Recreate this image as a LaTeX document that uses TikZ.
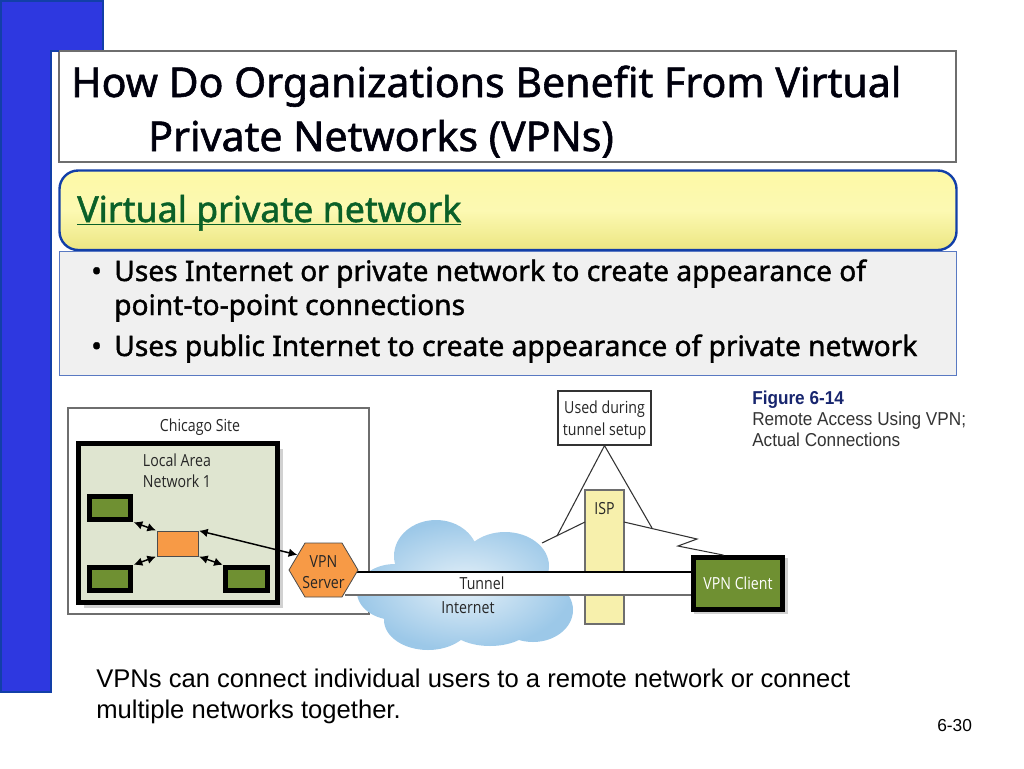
\documentclass[tikz,border=0pt]{standalone}
\usepackage{fontspec}
\setmainfont{Liberation Sans}
\newfontfamily\headfont[FakeBold=1.4]{Noto Sans}
\newfontfamily\figfont[FakeStretch=0.85]{Open Sans}
\newfontfamily\capfont[FakeStretch=0.92]{Liberation Sans}
\usetikzlibrary{arrows.meta}
\definecolor{barblue}{HTML}{2E38E0}
\definecolor{barline}{HTML}{123FA8}
\definecolor{boxgray}{HTML}{6E6E6E}
\definecolor{lanfill}{HTML}{DFE5D0}
\definecolor{pcgreen}{HTML}{6F9032}
\definecolor{pcrim}{HTML}{B7CB8E}
\definecolor{huborange}{HTML}{F79A46}
\definecolor{ispyellow}{HTML}{F7F0AC}
\definecolor{headgreen}{HTML}{0A6028}
\definecolor{capblue}{HTML}{17256E}
\definecolor{cloudin}{HTML}{E4F0F8}
\definecolor{cloudout}{HTML}{9CC8E8}
\definecolor{bandtop}{HTML}{FDF9A6}
\definecolor{bandmid}{HTML}{FCF9B2}
\definecolor{bandlow}{HTML}{ECE682}
\tikzset{
  rimmed/.style={path picture={\draw[pcrim,line width=1.6pt] (path picture bounding box.south west) rectangle (path picture bounding box.north east);}},
  pcbox/.style={draw=black,line width=3.6pt,fill=pcgreen,rimmed,minimum width=31pt,minimum height=17.4pt,inner sep=0pt},
  figtext/.style={font=\figfont\fontsize{12.5}{16}\selectfont,text=black!85,align=center,inner sep=0pt},
  duplex/.style={{Latex[length=6.5pt,width=6.5pt]}-{Latex[length=6.5pt,width=6.5pt]},line width=1.1pt,shorten >=.5pt,shorten <=.5pt},
  wirelink/.style={draw=black!80,line width=.8pt},
  titletext/.style={anchor=base west,inner sep=0pt,font=\headfont\bfseries\fontsize{30.8}{37}\selectfont,text=black!95!blue},
  bullettext/.style={anchor=base west,inner sep=0pt,font=\headfont\bfseries\fontsize{21.1}{25}\selectfont},
  captext/.style={anchor=base west,inner sep=0pt,font=\capfont\fontsize{14}{15}\selectfont,text=black!80},
  notetext/.style={anchor=base west,inner sep=0pt,font=\fontsize{19.2}{23}\selectfont},
}
\begin{document}
\begin{tikzpicture}[x=.75pt,y=-.75pt]
    \useasboundingbox (0,0) rectangle (1024,768);

    % --- Left bar
    \draw[fill=barblue,draw=barline,line width=1.5pt] (0.5,0.5) -- (102.5,0.5) -- (102.5,51) -- (51,51) -- (51,691.5) -- (0.5,691.5) -- cycle;

    % --- Title
    \draw[draw=boxgray,fill=white,line width=.8pt] (59,51) rectangle (956,162);
    \draw[barline,line width=.8pt] (51,51) -- (59,51);
    \node[titletext] (titleone) at (71,97) {How Do Organizations Benefit From Virtual};
    \node[titletext] (titletwo) at (148,151) {Private Networks (VPNs)};

    % --- Yellow band
    \draw[draw=barline,line width=1.8pt,rounded corners=14pt,top color=bandtop,bottom color=bandlow,middle color=bandmid] (59.5,170.5) rectangle (956.5,250);
    \node[anchor=base west,inner sep=0pt,font=\headfont\bfseries\fontsize{26.8}{30}\selectfont,text=headgreen] (bandtext) at (77,222) {\underline{\smash{Virtual private network}}};

    % --- Bullets
    \draw[draw=barline!70,fill=black!6,line width=.6pt] (59,251) rectangle (956,375);
    \node[bullettext] (bulletone) at (91,281) {•};
    \node[bullettext] (lineone) at (114,281) {Uses Internet or private network to create appearance of};
    \node[bullettext] (linetwo) at (114,315) {point-to-point connections};
    \node[bullettext] (bullettwo) at (91,356) {•};
    \node[bullettext] (linethree) at (114,356) {Uses public Internet to create appearance of private network};

    % --- Chicago site
    \draw[draw=boxgray,line width=.9pt,fill=white] (68,408) rectangle (369,614);
    \node[figtext] (chicago) at (200,427) {Chicago Site};
    \fill[black!18] (84,449) rectangle (283,608);
    \draw[draw=black,line width=3.6pt,fill=lanfill] (78.5,443.5) rectangle (277.5,602.5);
    \node[figtext] (lan) at (177,471) {Local Area\\Network 1};

    \node[pcbox] (pcone) at (110,508) {};
    \node[pcbox] (pctwo) at (110,579) {};
    \node[pcbox] (pcthree) at (246.5,579) {};
    \node[draw=black!70,line width=.6pt,fill=huborange,minimum width=30.75pt,minimum height=18.75pt,inner sep=0pt] (hub) at (177.5,543.5) {};

    % --- Cloud
    \shade[inner color=cloudin,outer color=cloudout]
      (436,556) ellipse (42 and 36)
      (505,566) ellipse (44 and 34)
      (533,610) ellipse (40 and 32)
      (395,592) ellipse (38 and 28)
      (428,620) ellipse (44 and 30)
      (490,624) ellipse (42 and 22)
      (470,590) ellipse (70 and 45);
    \node[figtext] (internet) at (468,608) {Internet};

    % --- ISP and tunnel
    \node[draw=boxgray,line width=.9pt,fill=ispyellow,minimum width=29.25pt,minimum height=100.5pt,inner sep=0pt] (isp) at (604.5,557) {};
    \node[figtext] (isplabel) at (604.5,509) {ISP};
    \node[draw=black!80,line width=.9pt,fill=white,minimum width=69.75pt,minimum height=40.5pt,inner sep=0pt] (setup) at (604.5,418) {};
    \node[figtext] (setuplabel) at (604.5,420) {Used during\\tunnel setup};
    \coordinate (triangleleft) at (557,536);
    \coordinate (triangleright) at (652,528);
    \coordinate (cloudedge) at (542,543);
    \coordinate (ispleft) at (585,522);
    \coordinate (ispright) at (624,522);
    \draw[wirelink] (triangleleft) -- (setup.south) -- (triangleright);
    \draw[wirelink] (cloudedge) -- (ispleft);
    \coordinate (zigone) at (697,539);
    \coordinate (zigtwo) at (678,546);

    \fill[white] (345,572) rectangle (692,595);
    \draw[black,line width=.9pt] (345,572) -- (692,572);
    \draw[boxgray,line width=1.1pt] (345,595) -- (692,595);
    \node[figtext] (tunnel) at (482,583) {Tunnel};

    % --- VPN client
    \fill[black!18] (694,558) rectangle (788,614);
    \node[draw=black,line width=3.6pt,fill=pcgreen,rimmed,minimum width=66.75pt,minimum height=39pt,figtext,text=white] (client) at (738,583.5) {VPN Client};
    \draw[wirelink] (ispright) -- (zigone) -- (zigtwo) -- (client.117);

    % --- VPN server
    \draw[draw=black!70,line width=.6pt,fill=huborange] (289,570) -- (305,543) -- (342,543) -- (358,570) -- (342,597) -- (305,597) -- cycle;
    \node[figtext] (server) at (323.5,572) {VPN\\Server};
    \coordinate (servertip) at (298,555);

    % --- Arrows
    \draw[duplex] (pcone.south east) -- (hub.north west);
    \draw[duplex] (pctwo.north east) -- (hub.south west);
    \draw[duplex] (pcthree.north west) -- (hub.south east);
    \draw[duplex] (hub.north east) -- (servertip);

    % --- Caption
    \node[captext,font=\capfont\bfseries\fontsize{14}{15}\selectfont,text=capblue] (figno) at (752,404) {Figure 6-14};
    \node[captext] (capone) at (752,425) {Remote Access Using VPN;};
    \node[captext] (captwo) at (752,446) {Actual Connections};

    % --- Notes
    \node[notetext] (noteone) at (96,687) {VPNs can connect individual users to a remote network or connect};
    \node[notetext] (notetwo) at (96,718) {multiple networks together.};
    \node[captext,font=\fontsize{13}{15}\selectfont,text=black] (pageno) at (937,731) {6-30};
  \end{tikzpicture}
\end{document}
